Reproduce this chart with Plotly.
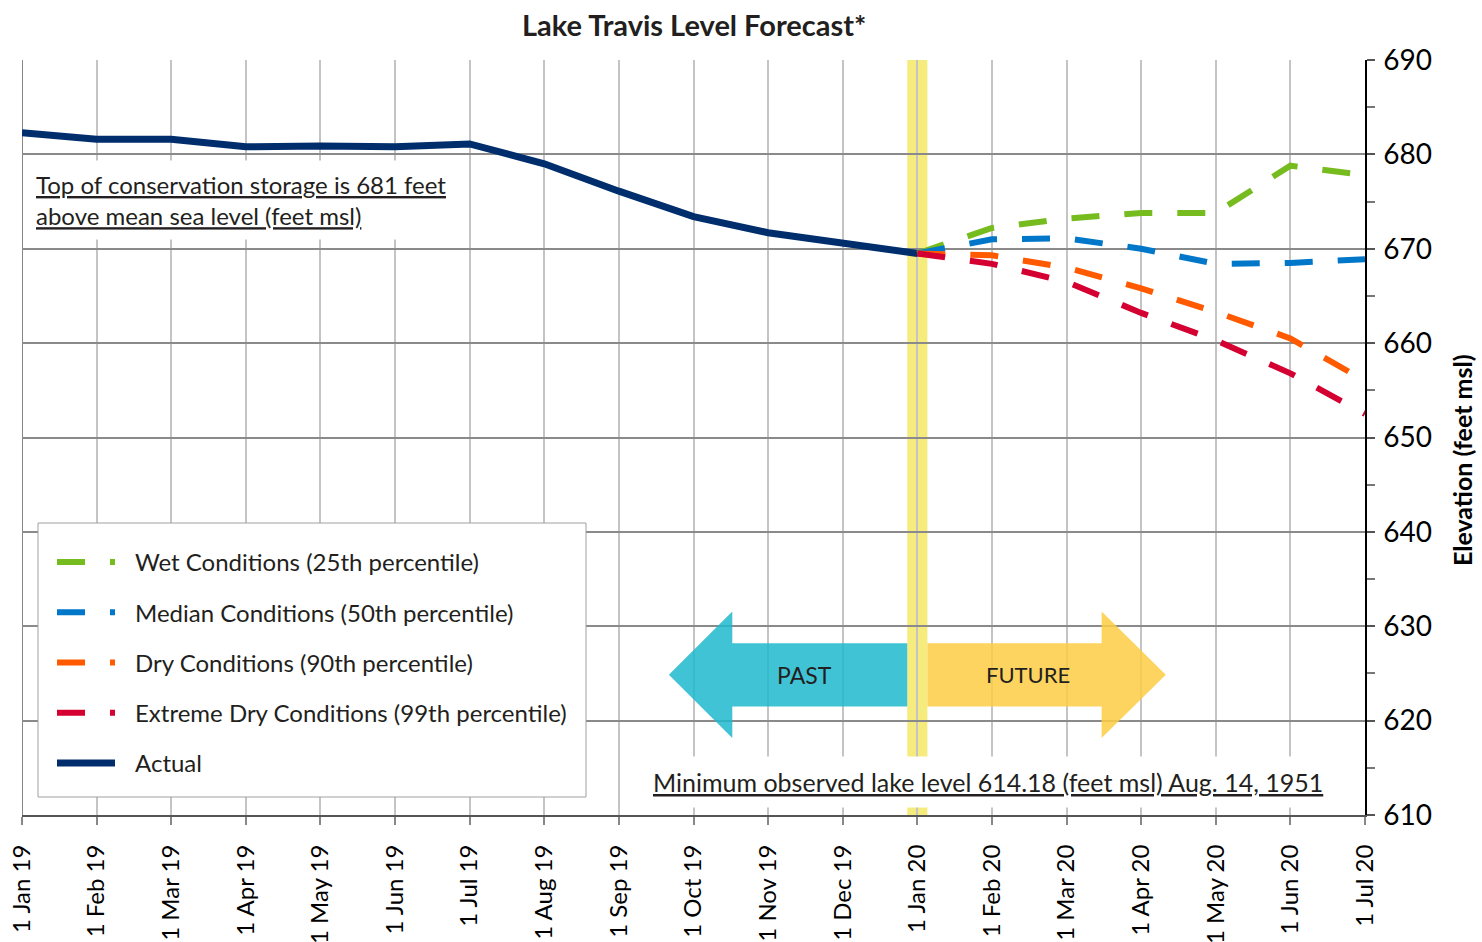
import plotly.graph_objects as go

# ---- data ----
month_labels = ["1 Jan 19", "1 Feb 19", "1 Mar 19", "1 Apr 19", "1 May 19", "1 Jun 19",
                "1 Jul 19", "1 Aug 19", "1 Sep 19", "1 Oct 19", "1 Nov 19", "1 Dec 19",
                "1 Jan 20", "1 Feb 20", "1 Mar 20", "1 Apr 20", "1 May 20", "1 Jun 20", "1 Jul 20"]
month_pos = list(range(len(month_labels)))

actual_x = month_pos[:13]
actual = [682.3, 681.6, 681.6, 680.8, 680.9, 680.8, 681.1, 679.0, 676.1, 673.4, 671.7, 670.6, 669.5]

fc_x = month_pos[12:]
wet = [669.5, 672.2, 673.2, 673.8, 673.8, 678.8, 677.8]
median = [669.5, 671.0, 671.1, 670.0, 668.4, 668.5, 668.9]
dry = [669.5, 669.3, 668.0, 665.8, 663.3, 660.5, 656.0]
extreme = [669.5, 668.4, 666.5, 663.2, 660.3, 656.8, 652.5]

series_names = ["Wet Conditions (25th percentile)", "Median Conditions (50th percentile)",
                "Dry Conditions (90th percentile)", "Extreme Dry Conditions (99th percentile)", "Actual"]
series_colors = ["#77BC1F", "#0077C8", "#FF5A00", "#D50032", "#002E6D"]

y_ticks = [610, 620, 630, 640, 650, 660, 670, 680, 690]

FONT = "Lato"
TXT = "#231F20"
PAD = "\u2002\u2009"

fig = go.Figure()

fig.add_trace(go.Scatter(x=actual_x, y=actual, mode="lines", name=PAD + series_names[4],
                         line=dict(color=series_colors[4], width=7),
                         legendrank=5, legendgroup="g5"))
for i, ys in enumerate([wet, median, dry, extreme]):
    fig.add_trace(go.Scatter(x=fc_x, y=ys, mode="lines", name=PAD + series_names[i],
                             line=dict(color=series_colors[i], width=6, dash="28px,25px"),
                             legendrank=i + 1, legendgroup="g%d" % (i + 1)))

shapes = []
# yellow "today" band
shapes.append(dict(type="rect", xref="x", yref="paper", x0=11.865, x1=12.135, y0=0, y1=1,
                   fillcolor="rgba(238,220,20,0.55)", line=dict(width=0), layer="below"))
# left border
shapes.append(dict(type="line", xref="x", yref="paper", x0=0, x1=0, y0=0, y1=1,
                   line=dict(color="#888888", width=2), layer="below"))
# legend box
shapes.append(dict(type="rect", xref="paper", yref="paper",
                   x0=16 / 1343, x1=564 / 1343, y0=18 / 755, y1=292 / 755,
                   fillcolor="white", line=dict(color="#A0A0A0", width=1), layer="above"))
# PAST arrow
yc, hb, bb = 624.85, 6.7, 3.35
px_tip, px_back, px_end = 8.67, 9.52, 11.865
shapes.append(dict(type="path", xref="x", yref="y",
                   path=f"M{px_tip},{yc} L{px_back},{yc+hb} L{px_back},{yc+bb} L{px_end},{yc+bb} "
                        f"L{px_end},{yc-bb} L{px_back},{yc-bb} L{px_back},{yc-hb} Z",
                   fillcolor="rgba(30,185,205,0.85)", line=dict(width=0), layer="above"))
# FUTURE arrow
fx_start, fx_back, fx_tip = 12.135, 14.47, 15.33
shapes.append(dict(type="path", xref="x", yref="y",
                   path=f"M{fx_tip},{yc} L{fx_back},{yc+hb} L{fx_back},{yc+bb} L{fx_start},{yc+bb} "
                        f"L{fx_start},{yc-bb} L{fx_back},{yc-bb} L{fx_back},{yc-hb} Z",
                   fillcolor="rgba(253,204,67,0.85)", line=dict(width=0), layer="above"))

annotations = [
    dict(text="<b>Lake Travis Level Forecast*</b>", xref="paper", yref="paper", x=0.5, y=1.0,
         yshift=36, showarrow=False, font=dict(family=FONT, size=29, color=TXT), xanchor="center", yanchor="middle"),
    dict(text="<b>Elevation (feet msl)</b>", xref="paper", yref="paper", x=1.0722, y=0.47,
         textangle=-90, showarrow=False, font=dict(family=FONT, size=25, color="#000000"),
         xanchor="center", yanchor="middle"),
    dict(text="<u>Top of conservation storage is 681 feet</u><br><u>above mean sea level (feet msl)</u>",
         xref="paper", yref="y", x=0.0, y=675.2, xanchor="left", yanchor="middle", align="left",
         showarrow=False, bgcolor="white", borderpad=9, xshift=4,
         font=dict(family=FONT, size=24, color=TXT)),
    dict(text="<u>Minimum observed lake level 614.18 (feet msl) Aug. 14, 1951</u>",
         xref="x", yref="y", x=12.947, y=613.5, xanchor="center", yanchor="middle",
         showarrow=False, bgcolor="white", borderpad=10,
         font=dict(family=FONT, size=25, color=TXT)),
    dict(text="PAST", xref="x", yref="y", x=10.49, y=yc, showarrow=False,
         font=dict(family=FONT, size=23, color=TXT)),
    dict(text="FUTURE", xref="x", yref="y", x=13.48, y=yc, showarrow=False,
         font=dict(family=FONT, size=22, color=TXT)),
]

fig.update_layout(
    width=1482, height=942,
    margin=dict(l=22, r=117, t=60, b=127, autoexpand=False),
    paper_bgcolor="white", plot_bgcolor="white",
    font=dict(family=FONT, color=TXT),
    shapes=shapes, annotations=annotations,
    showlegend=True,
    legend=dict(x=30 / 1343, y=(815 - 540) / 755, xanchor="left", yanchor="top",
                bgcolor="rgba(0,0,0,0)", borderwidth=0,
                font=dict(family=FONT, size=24, color=TXT),
                itemwidth=58, tracegroupgap=16, traceorder="grouped"),
    xaxis=dict(range=[0, 18], tickmode="array", tickvals=month_pos, ticktext=month_labels,
               tickangle=-90, tickfont=dict(family=FONT, size=24, color="#000000"),
               ticklabelstandoff=10,
               showgrid=True, gridcolor="#C4C4C4", gridwidth=2,
               showline=True, linecolor="#555555", linewidth=2,
               ticks="outside", ticklen=8, tickcolor="#888888", tickwidth=1.5,
               zeroline=False, fixedrange=True),
    yaxis=dict(range=[610, 690], side="right", tickmode="array", tickvals=y_ticks,
               tickfont=dict(family=FONT, size=28, color="#000000"),
               ticklabelstandoff=3,
               showgrid=True, gridcolor="#8A8A8A", gridwidth=2,
               showline=True, linecolor="#000000", linewidth=1.5,
               ticks="outside", ticklen=8, tickcolor="#555555", tickwidth=1.5,
               minor=dict(dtick=5, ticks="outside", ticklen=8, tickcolor="#777777", showgrid=False),
               zeroline=False, fixedrange=True),
)

fig.write_html("out.html", config={"displayModeBar": False},
               post_script="document.body.style.margin='0px';")
